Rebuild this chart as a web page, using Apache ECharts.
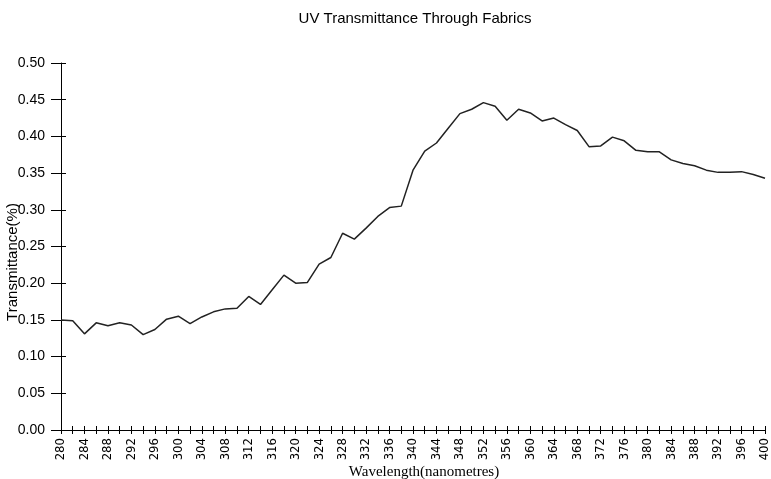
<!DOCTYPE html>
<html>
<head>
<meta charset="utf-8">
<script src="https://cdn.jsdelivr.net/npm/echarts@6/dist/echarts.min.js"></script>
<style>html,body{margin:0;padding:0;background:#fff}#c{width:771px;height:479px}</style>
</head>
<body>
<div id="c"></div>
<script>
const wavelengths = [280,282,284,286,288,290,292,294,296,298,300,302,304,306,308,310,312,314,316,318,320,322,324,326,328,330,332,334,336,338,340,342,344,346,348,350,352,354,356,358,360,362,364,366,368,370,372,374,376,378,380,382,384,386,388,390,392,394,396,398,400];
const transmittance = [0.150,0.149,0.131,0.146,0.142,0.146,0.143,0.130,0.137,0.151,0.155,0.145,0.154,0.161,0.165,0.166,0.182,0.171,0.191,0.211,0.200,0.201,0.226,0.235,0.268,0.260,0.275,0.291,0.303,0.305,0.354,0.380,0.391,0.411,0.431,0.437,0.446,0.441,0.422,0.437,0.432,0.421,0.425,0.416,0.408,0.386,0.387,0.399,0.394,0.381,0.379,0.379,0.368,0.363,0.360,0.354,0.351,0.351,0.352,0.348,0.343];
const yTicks = [0,0.05,0.10,0.15,0.20,0.25,0.30,0.35,0.40,0.45,0.50];

const yMin = yTicks[0], yMax = yTicks[yTicks.length-1], yStep = yTicks[1]-yTicks[0];
const chart = echarts.init(document.getElementById('c'), null, {renderer:'canvas'});
chart.setOption({
  animation:false,
  backgroundColor:'#fff',
  title:{text:'UV Transmittance Through Fabrics', left:410, textAlign:'center', top:6,
    textStyle:{fontFamily:'Liberation Sans', fontSize:15, fontWeight:'normal', color:'#000'}},
  grid:{left:61, right:6, top:63, bottom:49, outerBoundsMode:'none', containLabel:false},
  xAxis:[{
    type:'category', data:wavelengths.map(String), boundaryGap:false,
    name:'Wavelength(nanometres)', nameLocation:'middle', nameGap:35, nameMoveOverlap:false,
    nameTextStyle:{fontFamily:'Liberation Serif', fontSize:15, color:'#000', padding:[0,0,0,22]},
    axisLine:{lineStyle:{color:'#000', width:1}},
    axisTick:{interval:0, length:4, lineStyle:{color:'#000'}},
    axisLabel:{interval:1, rotate:90, margin:8, fontFamily:'Liberation Sans Narrow, DejaVu Sans Condensed, Liberation Sans', fontSize:13, color:'#000'},
    splitLine:{show:false}
  },{
    type:'category', data:wavelengths.map(String), boundaryGap:false, position:'bottom',
    axisLine:{show:false},
    axisTick:{interval:0, inside:true, length:4, lineStyle:{color:'#000'}},
    axisLabel:{show:false}, splitLine:{show:false}
  }],
  yAxis:[{
    type:'value', min:yMin, max:yMax, interval:yStep,
    name:'Transmittance(%)', nameLocation:'middle', nameGap:41, nameMoveOverlap:false,
    nameTextStyle:{fontFamily:'Liberation Sans', fontSize:15, color:'#000', padding:[0,31,0,0]},
    axisLine:{show:true, lineStyle:{color:'#000', width:1}},
    axisTick:{show:true, length:10, lineStyle:{color:'#000'}},
    axisLabel:{margin:16, fontFamily:'Liberation Sans', fontSize:14, color:'#000',
      formatter:v=>v.toFixed(2)},
    splitLine:{show:false}
  },{
    type:'value', min:yMin, max:yMax, interval:yStep, position:'left',
    axisLine:{show:false},
    axisTick:{show:true, inside:true, length:5, lineStyle:{color:'#000'}},
    axisLabel:{show:false}, splitLine:{show:false}
  }],
  series:[{type:'line', data:transmittance, showSymbol:false, symbol:'none',
    lineStyle:{color:'#222', width:1.5}}]
});
</script>
</body>
</html>
